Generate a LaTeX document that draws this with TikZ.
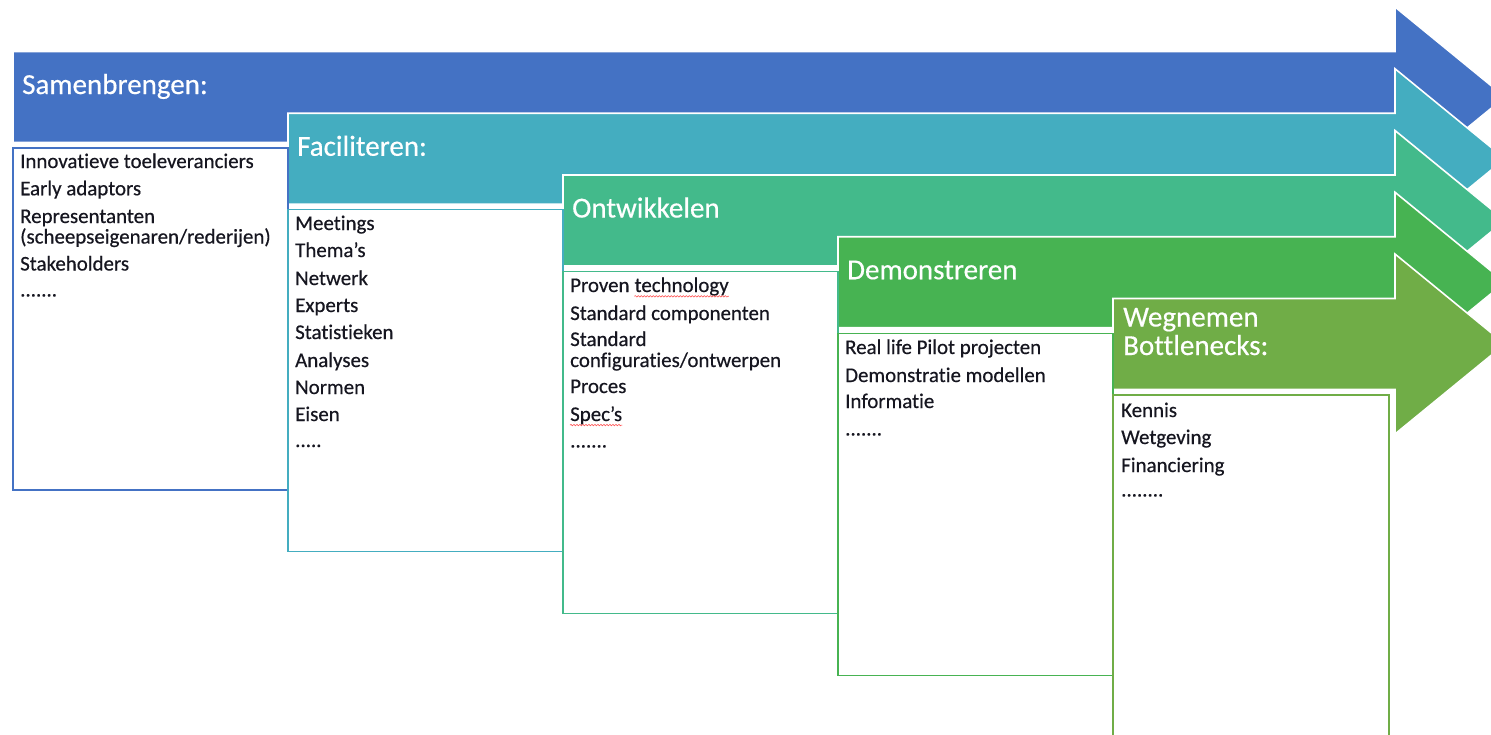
\documentclass[tikz,border=0pt]{standalone}
\usepackage{fontspec}
\setmainfont{Carlito}[Ligatures=NoCommon]
\newfontfamily\bodyfont{Carlito}[Ligatures=NoCommon, FakeBold=0.45]
\usetikzlibrary{decorations.pathmorphing}
\definecolor{cA}{HTML}{4472C4}
\definecolor{cB}{HTML}{44ADC0}
\definecolor{cC}{HTML}{43BA8B}
\definecolor{cD}{HTML}{47B352}
\definecolor{cE}{HTML}{70AD47}
\definecolor{txt}{RGB}{22,22,32}
\begin{document}
\begin{tikzpicture}[x=1pt,y=-1pt,
  arrowshape/.style={draw=white, line width=1.6pt, line join=miter},
  itembox/.style={fill=white, line width=1.3pt},
  title/.style={anchor=base west, inner sep=0pt, text=white, font=\bodyfont\fontsize{29}{28.5}\selectfont},
  item/.style={anchor=base west, inner sep=0pt, text=txt, font=\bodyfont\fontsize{20.9}{21}\selectfont},
  squiggle/.style={draw=red!65, line width=0.6pt, decorate, decoration={snake, segment length=3pt, amplitude=0.7pt}}]
\useasboundingbox (0,0) rectangle (1491,734);
\clip (0,0) rectangle (1491,734);
% arrows
\foreach \i/\col in {0/cA,1/cB,2/cC,3/cD,4/cE}{
  \pgfmathsetmacro\cy{97+61.75*\i}
  \pgfmathsetmacro\xo{13+275*\i}
  \filldraw[arrowshape, fill=\col] ({\xo},{\cy-45.5}) -- (1395,{\cy-45.5}) -- (1395,{\cy-90}) -- (1505,{\cy}) -- (1395,{\cy+90}) -- (1395,{\cy+45.5}) -- ({\xo},{\cy+45.5}) -- cycle;
}
% boxes
\filldraw[itembox, draw=cA] (13,148) rectangle (288,490);
\filldraw[itembox, draw=cB] (288,209.75) rectangle (563,551.75);
\filldraw[itembox, draw=cC] (563,271.5) rectangle (838,613.5);
\filldraw[itembox, draw=cD] (838,333.25) rectangle (1113,675.25);
\filldraw[itembox, draw=cE] (1113,395) rectangle (1389,740);
% titles
\node[title] (h1) at (22,94) {Samenbrengen:};
\node[title] (h2) at (297,155.75) {Faciliteren:};
\node[title] (h3) at (572,217.5) {Ontwikkelen};
\node[title] (h4) at (847,279.25) {Demonstreren};
\node[title, align=left] (h5) at (1123,355) {Wegnemen\\Bottlenecks:};
% box 1
\node[item] (a1) at (20,168) {Innovatieve toeleveranciers};
\node[item] (a2) at (20,195.25) {Early adaptors};
\node[item] (a3) at (20,223) {Representanten};
\node[item] (a4) at (20,243.5) {(scheepseigenaren/rederijen)};
\node[item] (a5) at (20,270.5) {Stakeholders};
\node[item] (a6) at (20,296.5) {.......};
% box 2
\node[item] (b1) at (295,230) {Meetings};
\node[item] (b2) at (295,257) {Thema’s};
\node[item] (b3) at (295,285) {Netwerk};
\node[item] (b4) at (295,312) {Experts};
\node[item] (b5) at (295,339) {Statistieken};
\node[item] (b6) at (295,367) {Analyses};
\node[item] (b7) at (295,394) {Normen};
\node[item] (b8) at (295,421) {Eisen};
\node[item] (b9) at (295,447) {.....};
% box 3
\node[item] (c1) at (570,292) {Proven};
\node[item] (c1b) at ([xshift=4.7pt]c1.base east) {technology};
\node[item] (c2) at (570,320) {Standard componenten};
\node[item] (c3) at (570,346) {Standard};
\node[item] (c4) at (570,367) {configuraties/ontwerpen};
\node[item] (c5) at (570,393) {Proces};
\node[item] (c6) at (570,421) {Spec’s};
\node[item] (c7) at (570,447.5) {.......};
\draw[squiggle] ([yshift=-0.5pt]c1b.south west) -- ([yshift=-0.5pt]c1b.south east);
\draw[squiggle] ([yshift=-0.5pt]c6.south west) -- ([yshift=-0.5pt]c6.south east);
% box 4
\node[item] (d1) at (845,354) {Real life Pilot projecten};
\node[item] (d2) at (845,382) {Demonstratie modellen};
\node[item] (d3) at (845,408) {Informatie};
\node[item] (d4) at (845,435.5) {.......};
% box 5
\node[item] (e1) at (1121,417) {Kennis};
\node[item] (e2) at (1121,444) {Wetgeving};
\node[item] (e3) at (1121,472) {Financiering};
\node[item] (e4) at (1121,496.5) {........};
\end{tikzpicture}
\end{document}
